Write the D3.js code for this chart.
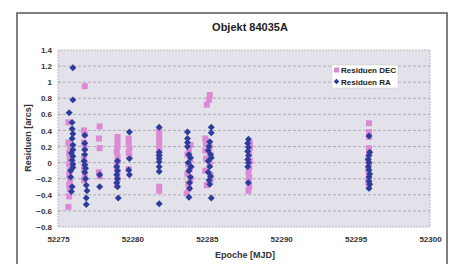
<!DOCTYPE html>
<html><head><meta charset="utf-8">
<script src="https://cdn.jsdelivr.net/npm/d3@7"></script>
<style>
html,body{margin:0;padding:0;background:#fff;}
text{font-family:"Liberation Sans",Arial,sans-serif;}
</style></head>
<body><svg id="c" width="455" height="264"></svg>
<script>
const title = "Objekt 84035A";
const xTitle = "Epoche [MJD]";
const yTitle = "Residuen [arcs]";
const xTicks = [52275, 52280, 52285, 52290, 52295, 52300];
const yTicks = [-0.8, -0.6, -0.4, -0.2, 0, 0.2, 0.4, 0.6, 0.8, 1, 1.2, 1.4];
const seriesNames = ["Residuen DEC", "Residuen RA"];

const decEpoch = [
 52275.7,52275.7,52275.8,52275.75,52275.8,52275.75,52275.8,52275.75,52275.8,52275.75,52275.8,52275.75,52275.7,
 52276.8,52276.75,52276.8,52276.75,52276.8,52276.75,52276.8,52276.75,52276.8,52276.75,
 52277.8,52277.75,52277.8,52277.75,52277.8,
 52279.0,52279.0,52279.0,52278.95,52279.0,52279.0,52278.95,52279.0,52279.0,52278.95,
 52279.75,52279.75,52279.8,52279.75,52279.8,52279.75,
 52281.8,52281.8,52281.8,52281.8,52281.8,52281.8,52281.8,52281.8,
 52283.9,52283.8,52283.7,52283.9,52283.75,52283.85,52283.7,52283.9,52283.75,52283.8,52283.65,
 52285.2,52285.15,52285.0,52284.9,52284.95,52285.2,52284.9,52285.25,52284.95,52285.2,52284.9,52285.25,52285.25,52285.0,
 52287.9,52287.9,52287.85,52287.9,52287.85,52287.8,52287.85,52287.8,52287.85,52287.8,
 52295.9,52295.9,52295.9,52295.9,52295.9,52295.85,52295.9,52295.85,52295.9,52295.85,52295.9
];
const decResid = [
 0.5,0.25,0.2,0.12,0.05,-0.02,-0.1,-0.15,-0.22,-0.28,-0.33,-0.42,-0.55,
 0.95,0.4,0.35,0.25,0.18,0.08,0.0,-0.08,-0.15,-0.22,
 0.45,0.3,0.18,-0.12,-0.17,
 0.32,0.27,0.2,0.14,0.08,0.02,-0.05,-0.12,-0.2,-0.28,
 0.3,0.25,0.18,0.13,0.08,-0.08,
 0.4,0.34,0.28,0.22,0.15,0.1,-0.3,-0.35,
 0.22,0.15,0.1,0.04,-0.02,-0.08,-0.14,-0.2,-0.26,-0.32,-0.38,
 0.84,0.78,0.72,0.3,0.24,0.2,0.15,0.1,0.05,-0.02,-0.1,-0.15,-0.22,-0.28,
 0.24,0.18,0.1,0.02,-0.06,-0.12,-0.18,-0.24,-0.3,-0.35,
 0.49,0.38,0.32,0.18,0.12,0.05,-0.02,-0.1,-0.18,-0.24,-0.28
];
const raEpoch = [
 52276.0,52276.0,52275.75,52275.95,52275.95,52276.0,52275.95,52276.0,52276.0,52275.9,52276.0,52275.95,52276.0,52276.0,52275.85,52275.85,52275.95,52275.9,
 52276.8,52276.8,52276.8,52276.8,52276.75,52276.8,52276.85,52276.8,52276.85,52276.9,52276.95,52276.9,52276.9,
 52277.8,52277.8,
 52279.0,52278.95,52279.0,52278.95,52279.0,52278.95,52279.0,52279.05,
 52279.8,52279.8,52279.75,52279.8,
 52281.8,52281.8,52281.8,52281.8,52281.8,52281.8,52281.8,52281.8,
 52283.7,52283.7,52283.7,52283.7,52283.8,52283.9,52283.75,52283.95,52283.8,52283.9,52283.85,52283.85,52283.8,
 52285.3,52285.3,52285.2,52285.15,52285.1,52285.25,52285.3,52285.1,52285.2,52285.1,52285.25,52285.15,52285.2,52285.3,
 52287.8,52287.75,52287.8,52287.75,52287.8,52287.75,52287.8,52287.75,52287.8,
 52295.9,52295.95,52295.9,52295.85,52295.9,52295.85,52295.9,52295.95,52295.9,52295.9,52295.95,52295.9
];
const raResid = [
 1.18,0.78,0.62,0.5,0.42,0.36,0.3,0.22,0.16,0.12,0.08,0.03,-0.02,-0.06,-0.1,-0.18,-0.3,-0.36,
 0.34,0.24,0.16,0.1,0.02,-0.03,-0.07,-0.12,-0.2,-0.28,-0.35,-0.44,-0.52,
 -0.15,-0.3,
 0.02,-0.05,-0.1,-0.15,-0.2,-0.25,-0.3,-0.44,
 0.38,0.05,-0.09,-0.15,
 0.44,0.13,0.09,0.05,0.01,-0.05,-0.11,-0.51,
 0.38,0.3,0.25,0.2,0.1,0.06,0.0,-0.05,-0.1,-0.18,-0.25,-0.32,-0.43,
 0.44,0.37,0.26,0.2,0.15,0.1,0.06,0.02,-0.05,-0.12,-0.17,-0.22,-0.27,-0.44,
 0.29,0.24,0.19,0.14,0.09,0.04,0.0,-0.05,-0.25,
 0.33,0.13,0.09,0.04,0.0,-0.05,-0.09,-0.14,-0.18,-0.23,-0.27,-0.32
];

const svg = d3.select("#c");
const L = 58, R = 430, T = 50, B = 227;
const x = d3.scaleLinear().domain([52275, 52300]).range([L, R]);
const y = d3.scaleLinear().domain([-0.8, 1.4]).range([B, T]);

// outer frame
svg.append("rect").attr("x",17).attr("y",13).attr("width",430).attr("height",270)
  .attr("fill","#fff").attr("stroke","#555").attr("stroke-width",1.5);

// plot area
svg.append("rect").attr("x",L).attr("y",T).attr("width",R-L).attr("height",B-T)
  .attr("fill","#e3e1e9").attr("stroke","#b0aeb5").attr("stroke-width",0.8).attr("stroke-dasharray","2,1");

// gridlines
svg.append("g").selectAll("line").data(yTicks.filter(v => v > -0.8 && v < 1.4)).join("line")
  .attr("x1",L).attr("x2",R).attr("y1",d=>y(d)).attr("y2",d=>y(d))
  .attr("stroke","#9a98a0").attr("stroke-width",0.7).attr("stroke-dasharray","3,2");

// axes
const yAxis = d3.axisLeft(y).tickValues(yTicks).tickSize(0).tickPadding(6)
  .tickFormat(d => d3.format("")(Math.round(d*10)/10));
const gy = svg.append("g").attr("transform",`translate(${L},0)`).call(yAxis);
gy.select(".domain").remove();
gy.selectAll("text").attr("font-size",8).attr("font-weight","bold").attr("fill","#333")
  .attr("font-family","Liberation Sans, Arial, sans-serif");

const xAxis = d3.axisBottom(x).tickValues(xTicks).tickSize(0).tickPadding(9).tickFormat(d3.format("d"));
const gx = svg.append("g").attr("transform",`translate(0,${B})`).call(xAxis);
gx.select(".domain").remove();
gx.selectAll("text").attr("font-size",8).attr("font-weight","bold").attr("fill","#333")
  .attr("font-family","Liberation Sans, Arial, sans-serif");

// titles
svg.append("text").attr("x",250).attr("y",31).attr("text-anchor","middle")
  .attr("font-size",11).attr("font-weight","bold").attr("fill","#222").text(title);
svg.append("text").attr("x",245).attr("y",258).attr("text-anchor","middle")
  .attr("font-size",9).attr("font-weight","bold").attr("fill","#333").text(xTitle);
svg.append("text").attr("transform","translate(31,138) rotate(-90)").attr("text-anchor","middle")
  .attr("font-size",9).attr("font-weight","bold").attr("fill","#333").text(yTitle);

const pink = "#dc8ad6", blue = "#2b3c9c";
const dec = decEpoch.map((e,i)=>({e, v:decResid[i]}));
const ra = raEpoch.map((e,i)=>({e, v:raResid[i]}));

svg.append("g").selectAll("rect").data(dec).join("rect")
  .attr("x",d=>x(d.e)-3).attr("y",d=>y(d.v)-3).attr("width",6).attr("height",6).attr("fill",pink);

const diamond = d3.symbol().type(d3.symbolSquare).size(24);
svg.append("g").selectAll("path").data(ra).join("path")
  .attr("d",diamond).attr("transform",d=>`translate(${x(d.e)},${y(d.v)}) rotate(45)`).attr("fill",blue);

// legend
const lg = svg.append("g");
lg.append("rect").attr("x",332).attr("y",65).attr("width",66).attr("height",23).attr("fill","#fff")
  .attr("stroke","#ccc").attr("stroke-width",0.5);
lg.append("rect").attr("x",334).attr("y",67.5).attr("width",5).attr("height",5).attr("fill",pink);
lg.append("path").attr("d",d3.symbol().type(d3.symbolSquare).size(16)).attr("transform","translate(336.5,81.5) rotate(45)").attr("fill",blue);
lg.selectAll("text.l").data(seriesNames).join("text").attr("class","l")
  .attr("x",341).attr("y",(d,i)=>73+i*11.5).attr("font-size",8).attr("font-weight","bold").attr("fill","#222").text(d=>d);
</script></body></html>
